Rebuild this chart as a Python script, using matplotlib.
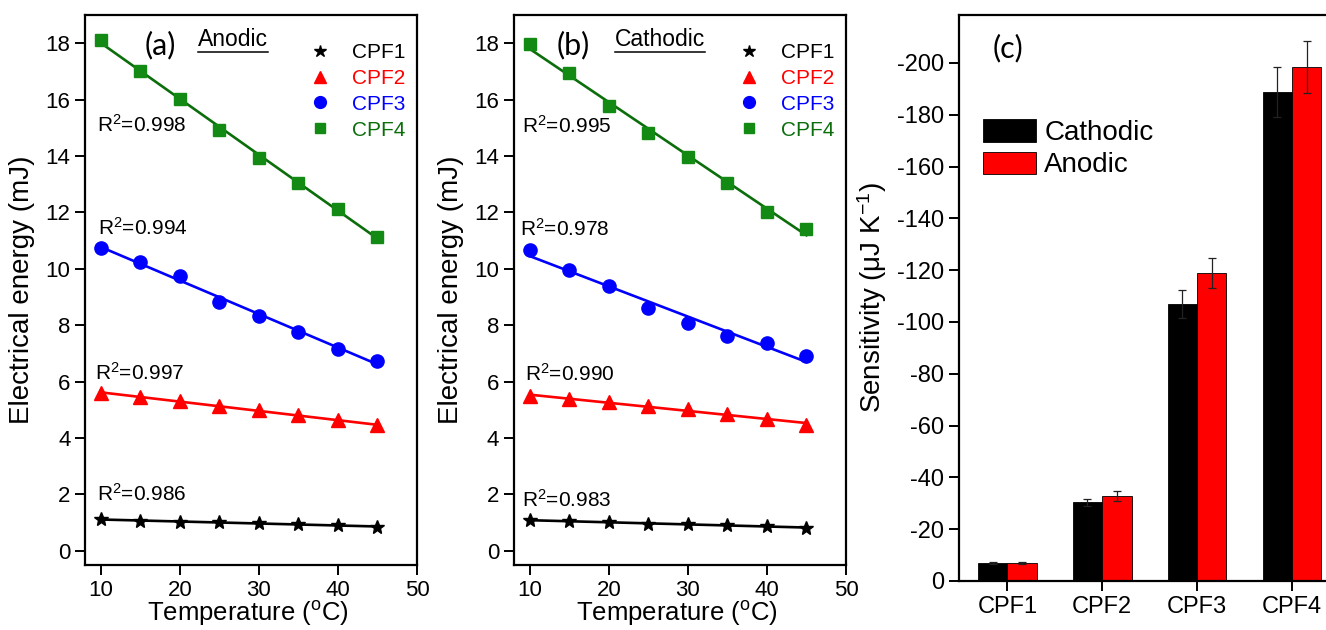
import numpy as np
import matplotlib
matplotlib.use("Agg")
import matplotlib.pyplot as plt
from matplotlib.lines import Line2D

plt.rcParams["font.family"] = ["Liberation Sans", "DejaVu Sans"]
plt.rcParams["mathtext.fontset"] = "custom"
plt.rcParams["mathtext.rm"] = "Liberation Sans"
plt.rcParams["mathtext.it"] = "Liberation Sans"
plt.rcParams["axes.unicode_minus"] = False

# temperatures (degC)
temps = [10, 15, 20, 25, 30, 35, 40, 45]
series_names = ["CPF1", "CPF2", "CPF3", "CPF4"]

# electrical energy (mJ), anodic
anodic_cpf1 = [1.12, 1.07, 1.03, 1.01, 0.98, 0.94, 0.90, 0.86]
anodic_cpf2 = [5.60, 5.45, 5.30, 5.15, 4.98, 4.80, 4.63, 4.45]
anodic_cpf3 = [10.75, 10.24, 9.74, 8.83, 8.33, 7.76, 7.17, 6.73]
anodic_cpf4 = [18.10, 17.03, 16.03, 14.92, 13.94, 13.05, 12.11, 11.14]
anodic_r2 = ["0.986", "0.997", "0.994", "0.998"]

# electrical energy (mJ), cathodic
cathodic_cpf1 = [1.09, 1.05, 1.01, 0.97, 0.94, 0.91, 0.87, 0.82]
cathodic_cpf2 = [5.49, 5.37, 5.28, 5.14, 5.02, 4.84, 4.67, 4.47]
cathodic_cpf3 = [10.66, 9.95, 9.39, 8.62, 8.09, 7.62, 7.36, 6.91]
cathodic_cpf4 = [17.96, 16.93, 15.77, 14.82, 13.97, 13.05, 12.03, 11.42]
cathodic_r2 = ["0.983", "0.990", "0.978", "0.995"]

# sensitivity (uJ/K)
sens_cathodic = [-7.0, -30.3, -107.0, -188.8]
sens_cathodic_err = [0.4, 1.5, 5.3, 9.5]
sens_anodic = [-7.0, -32.8, -119.0, -198.5]
sens_anodic_err = [0.4, 1.8, 5.8, 10.0]

markers = ["*", "^", "o", "s"]
mcolors = ["black", "#ff0000", "#0000ff", "#138a13"]
lcolors = ["black", "#ff0000", "#0000ff", "#0b6e0b"]
msizes = [10, 10, 9.5, 8.5]

fig = plt.figure(figsize=(13.26, 6.3), dpi=100)
ax_a = fig.add_axes([0.0641, 0.1032, 0.2504, 0.8730])
ax_b = fig.add_axes([0.3876, 0.1032, 0.2504, 0.8730])
ax_c = fig.add_axes([0.7232, 0.0778, 0.2790, 0.8984])


def energy_panel(ax, data, r2, r2_pos, tag, tag_x, title, title_x):
    for i, ys in enumerate(data):
        slope, icpt = np.polyfit(temps, ys, 1)
        fit = np.polyval([slope, icpt], temps)
        ax.plot(temps, fit, color=lcolors[i], lw=1.9, zorder=2)
        ax.plot(temps, ys, ls="none", marker=markers[i], ms=msizes[i],
                color=mcolors[i], zorder=3)
        ax.text(r2_pos[i][0], r2_pos[i][1], "R$^2$=" + r2[i], fontsize=15,
                ha="left", va="center")
    ax.set_xlim(8, 50)
    ax.set_ylim(-0.5, 19)
    ax.set_xticks([10, 20, 30, 40, 50])
    ax.set_yticks(range(0, 19, 2))
    ax.tick_params(direction="out", length=7, width=1.4, labelsize=16,
                   top=False, right=False)
    for sp in ax.spines.values():
        sp.set_linewidth(1.6)
    ax.set_xlabel("Temperature ($^{o}$C)", fontsize=18.5)
    ax.xaxis.set_label_coords(0.49, -0.062)
    ax.set_ylabel("Electrical energy (mJ)", fontsize=20)
    ax.yaxis.set_label_coords(-0.15, 0.5)
    ax.text(tag_x, 0.945, tag, transform=ax.transAxes, fontsize=22,
            family=["Lato", "DejaVu Sans"], ha="left", va="center")
    t = ax.text(title_x, 0.955, title, transform=ax.transAxes, fontsize=16.5,
                ha="left", va="center")
    handles = [Line2D([], [], ls="none", marker=markers[i], ms=msizes[i] - 1,
                      color=mcolors[i]) for i in range(4)]
    ax.legend(handles, series_names, loc="upper right",
              bbox_to_anchor=(0.995, 0.968), frameon=False, fontsize=15,
              handlelength=1.0, handletextpad=1.0, labelspacing=0.33,
              borderpad=0, labelcolor=lcolors)
    return t


t_a = energy_panel(ax_a, [anodic_cpf1, anodic_cpf2, anodic_cpf3, anodic_cpf4],
                   anodic_r2,
                   [(9.5, 2.02), (9.25, 6.32), (9.6, 11.45), (9.5, 15.1)],
                   "(a)", 0.18, "Anodic", 0.34)
t_b = energy_panel(ax_b, [cathodic_cpf1, cathodic_cpf2, cathodic_cpf3, cathodic_cpf4],
                   cathodic_r2,
                   [(9.0, 1.8), (9.45, 6.28), (8.75, 11.42), (9.0, 15.06)],
                   "(b)", 0.13, "Cathodic", 0.304)

# panel (c): bar chart
x = np.arange(len(series_names))
w = 0.31
ax_c.bar(x - w / 2, sens_cathodic, w, color="black", edgecolor="black",
         lw=0.6, yerr=sens_cathodic_err, capsize=3,
         error_kw=dict(elinewidth=0.9, capthick=0.9, ecolor="#222222"),
         label="Cathodic")
ax_c.bar(x + w / 2, sens_anodic, w, color="#ff0000", edgecolor="black",
         lw=0.6, yerr=sens_anodic_err, capsize=3,
         error_kw=dict(elinewidth=0.9, capthick=0.9, ecolor="#222222"),
         label="Anodic")
ax_c.set_xlim(-0.51, 3.39)
ax_c.set_ylim(0, -218.5)
ax_c.set_yticks(range(0, -201, -20))
ax_c.set_xticks(x)
ax_c.set_xticklabels(series_names)
ax_c.tick_params(direction="out", length=7, width=1.4, labelsize=17,
                 top=False, right=False)
for sp in ax_c.spines.values():
    sp.set_linewidth(1.6)
ax_c.spines["right"].set_visible(False)
ax_c.set_ylabel("Sensitivity (μJ K$^{-1}$)", fontsize=20)
ax_c.yaxis.set_label_coords(-0.19, 0.5)
ax_c.text(0.09, 0.942, "(c)", transform=ax_c.transAxes, fontsize=22,
          family=["Lato", "DejaVu Sans"], ha="left", va="center")
ax_c.legend(loc="upper left", bbox_to_anchor=(0.028, 0.84), frameon=False,
            fontsize=20, handlelength=1.9, handleheight=0.85,
            handletextpad=0.3, labelspacing=0.2, borderpad=0)

# underline the panel titles
fig.canvas.draw()
renderer = fig.canvas.get_renderer()
for ax, t in [(ax_a, t_a), (ax_b, t_b)]:
    bb = t.get_window_extent(renderer).transformed(ax.transAxes.inverted())
    ax.plot([bb.x0, bb.x1], [bb.y0 - 0.002, bb.y0 - 0.002], color="black",
            lw=1.1, transform=ax.transAxes, clip_on=False)

fig.savefig("out.png", dpi=100)
